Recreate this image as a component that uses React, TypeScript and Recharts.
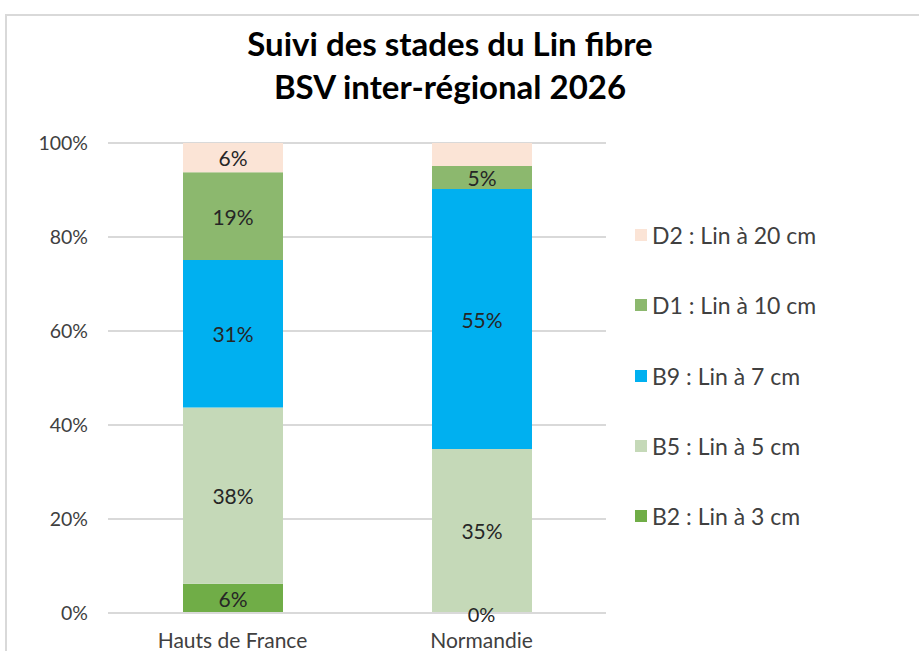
import { BarChart, Bar, XAxis, YAxis, CartesianGrid, LabelList, ReferenceDot } from "recharts";

const regions = ["Hauts de France", "Normandie"];
const b2 = [6.2, 0];
const b5 = [37.5, 34.9];
const b9 = [31.4, 55.3];
const d1 = [18.7, 4.9];
const d2 = [6.2, 4.9];
const yTicks = [0, 20, 40, 60, 80, 100];

// stack order bottom -> top
const series = [
  { key: "b2", name: "B2 : Lin à 3 cm", values: b2, color: "#70ad47" },
  { key: "b5", name: "B5 : Lin à 5 cm", values: b5, color: "#c5d9b8" },
  { key: "b9", name: "B9 : Lin à 7 cm", values: b9, color: "#00b0f0" },
  { key: "d1", name: "D1 : Lin à 10 cm", values: d1, color: "#8cb86e" },
  { key: "d2", name: "D2 : Lin à 20 cm", values: d2, color: "#fbe4d6" },
];

const data = regions.map((r, i) => {
  const row: Record<string, string | number> = { region: r };
  series.forEach((s) => (row[s.key] = s.values[i]));
  return row;
});

const FONT = "Lato, 'Open Sans', sans-serif";
const LABEL_SIZE = 21;

// the Normandie D2 segment has no label in the source chart
const hideLabel = (key: string, index: number) => key === "d2" && index === 1;

const renderLabel = (key: string) => (p: any) => {
  if (hideLabel(key, p.index)) return null;
  const h = Number(p.height) || 0;
  return (
    <text
      x={p.x + p.width / 2}
      y={p.y + h / 2}
      textAnchor="middle"
      dominantBaseline="central"
      fill="#262626"
      fontSize={LABEL_SIZE}
      fontFamily={FONT}
    >
      {`${Math.round(Number(p.value))}%`}
    </text>
  );
};

// zero-height segments get no LabelList entry, label them at the baseline
const zeroLabels = regions.flatMap((r, i) => (b2[i] === 0 ? [{ region: r, value: b2[i] }] : []));

export default function App() {
  return (
    <div style={{ position: "absolute", left: 0, top: 0, width: 919, height: 651, background: "#fff", overflow: "hidden", fontFamily: FONT }}>
      <div style={{ position: "absolute", left: 5, top: 14, width: 940, height: 680, border: "2px solid #d9d9d9" }} />
      <div style={{ position: "absolute", left: 0, width: 900, top: 22, textAlign: "center", fontWeight: 700, fontSize: 33, lineHeight: "43px", color: "#000" }}>
        Suivi des stades du Lin fibre
        <br />
        BSV inter-régional 2026
      </div>
      <div style={{ position: "absolute", left: 0, top: 0 }}>
        <BarChart width={919} height={651} data={data} margin={{ top: 143, right: 313, bottom: 0, left: 0 }} barSize={100}>
          <CartesianGrid vertical={false} stroke="#d9d9d9" strokeWidth={2} />
          <XAxis
            dataKey="region"
            height={38}
            tickLine={false}
            axisLine={{ stroke: "#d9d9d9", strokeWidth: 2 }}
            tickSize={0}
            tickMargin={20}
            tick={{ fill: "#404040", fontSize: 21, fontFamily: FONT }}
          />
          <YAxis
            width={108}
            domain={[0, 100]}
            ticks={yTicks}
            tickFormatter={(v) => `${v}%`}
            axisLine={false}
            tickLine={false}
            tickSize={0}
            tickMargin={20}
            tick={{ fill: "#404040", fontSize: 19.5, fontFamily: FONT }}
          />
          {series.map((s) => (
            <Bar key={s.key} dataKey={s.key} name={s.name} stackId="a" fill={s.color} isAnimationActive={false}>
              <LabelList dataKey={s.key} position="center" content={renderLabel(s.key)} />
            </Bar>
          ))}
          {zeroLabels.map((z) => (
            <ReferenceDot
              key={z.region}
              x={z.region}
              y={z.value}
              r={0}
              ifOverflow="visible"
              shape={(p: any) => (
                <text
                  x={p.cx}
                  y={p.cy + 1}
                  textAnchor="middle"
                  dominantBaseline="central"
                  fill="#262626"
                  fontSize={20}
                  fontFamily={FONT}
                >
                  {`${z.value}%`}
                </text>
              )}
            />
          ))}
        </BarChart>
      </div>
      <div style={{ position: "absolute", left: 635, top: 200 }}>
        {[...series].reverse().map((s) => (
          <div key={s.key} style={{ display: "flex", alignItems: "center", height: 70.3 }}>
            <span style={{ display: "inline-block", width: 12, height: 12, background: s.color, marginRight: 5 }} />
            <span style={{ fontSize: 23, color: "#404040", lineHeight: "24px" }}>{s.name}</span>
          </div>
        ))}
      </div>
    </div>
  );
}
